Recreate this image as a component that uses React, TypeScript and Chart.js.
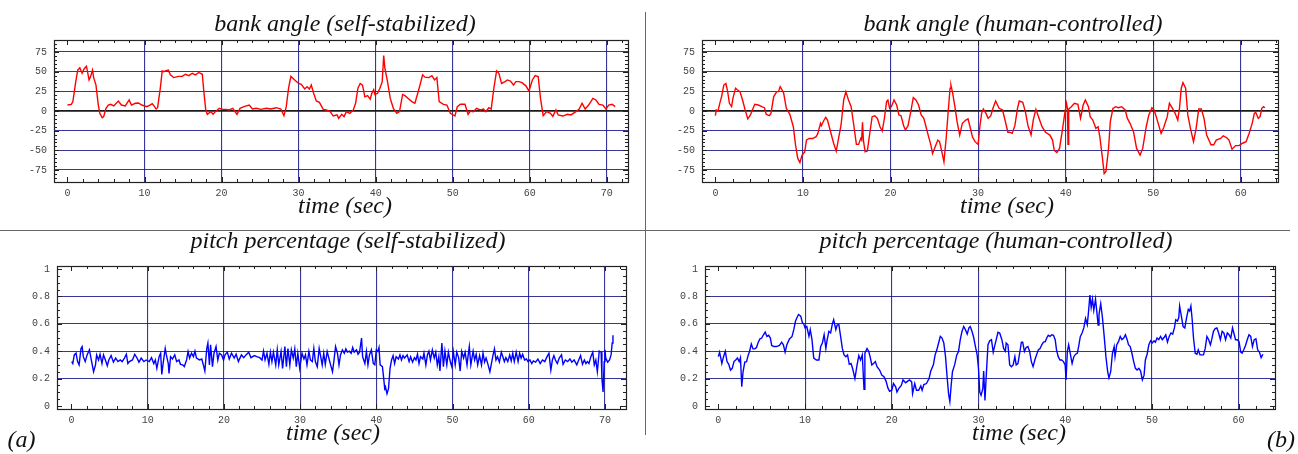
import React, { useEffect, useRef } from "react";
import { Chart, registerables } from "chart.js";

Chart.register(...registerables);

// ---------------- DATA ----------------
const X_SELF_TICKS = [0, 10, 20, 30, 40, 50, 60, 70];
const X_HUMAN_TICKS = [0, 10, 20, 30, 40, 50, 60];
const Y_BANK_TICKS = [-75, -50, -25, 0, 25, 50, 75];
const Y_PITCH_TICKS = [0, 0.2, 0.4, 0.6, 0.8, 1];

const TITLES = [
  "bank angle (self-stabilized)",
  "bank angle (human-controlled)",
  "pitch percentage (self-stabilized)",
  "pitch percentage (human-controlled)",
];
const X_LABEL = "time (sec)";
const PANEL_TAGS = ["(a)", "(b)"];

const bankSelfT = [0,0.5,0.7,1.07,1.33,1.6,1.9,2.15,2.46,2.6,2.8,3.0,3.25,3.4,3.7,4.0,4.2,4.5,4.7,5.0,5.3,5.6,6.0,6.6,7.0,7.5,8.0,8.3,8.8,9.2,9.65,10.3,10.7,11.0,11.3,11.5,11.7,12.05,12.3,12.5,12.8,13.1,13.35,13.8,14.4,14.9,15.3,15.75,16.2,16.6,17.05,17.5,17.7,17.95,18.15,18.6,18.9,19.2,19.7,20.1,20.55,21.0,21.45,22.0,22.4,22.9,23.6,24.0,24.5,25.1,25.8,26.4,27.1,27.7,28.1,28.4,28.7,29.0,29.5,30.0,30.35,30.8,31.1,31.4,31.65,31.95,32.3,32.7,33.2,33.6,34.1,34.5,35.0,35.2,35.6,35.9,36.2,36.65,37.1,37.4,37.7,38.0,38.3,38.6,38.95,39.3,39.5,39.75,39.9,40.25,40.55,40.85,41.05,41.2,41.55,41.9,42.3,42.75,43.1,43.5,43.8,44.3,44.7,45.1,45.65,46.1,46.4,46.9,47.3,47.65,47.95,48.25,48.8,49.25,49.7,50.3,50.6,51.0,51.6,52.0,52.3,52.7,53.1,53.6,54.0,54.3,54.7,55.0,55.35,55.7,56.0,56.35,56.8,57.1,57.5,57.9,58.2,58.6,59.0,59.5,59.9,60.35,60.7,61.1,61.4,61.75,62.2,62.7,63.0,63.4,63.7,64.3,64.9,65.35,66.0,66.4,66.8,67.2,67.65,68.2,68.6,69.0,69.5,69.9,70.25,70.7,71.1];
const bankSelfV = [7.6,8.5,12,37,52,55,48,53.5,57,50,39.5,44,52,42.5,33,7.6,-3,-8.5,-7,3.4,7.6,8.5,6.4,12.7,7.6,6.4,14,7.6,9.8,10.2,7.6,5.5,7.6,9.3,5.5,2.5,4.2,29,51,50,51.4,52,46,42.5,44,44,46.7,45,48,46,49,46.7,24.6,1.3,-4.2,-0.8,-4.2,-0.8,3.4,2.1,2.1,1.3,3.4,-4.2,3.4,5.5,7.6,2.5,3.4,2.1,3.4,2.5,4.2,2.5,-6,5.5,29,44,39.5,35,34,28,31,28,33,22.5,12.7,11,2.1,1.3,-0.8,-6.4,-5,-9.4,-4.2,-7.2,-0.8,-3,1.3,9.8,29,35,33,18,19.5,15,22.5,27,21,22.5,29,37,70.5,54.4,37,16,3.4,-3,-0.8,21,19.5,15.3,12,9.8,29,46,43,42.5,45,39.5,42.5,12,8.5,7.6,-3,-6.4,5.5,8.5,8.5,-4.2,0,-0.8,3.4,1.3,2.5,-0.8,4.2,2.5,29,51,48,35,37.4,39.5,38,33,37.4,37.4,36,32,25.5,39.5,45,43.8,16,-6,-0.8,-3,-6.8,1.3,-5,-6.4,-4.2,-5,-0.8,2.1,9.8,2.5,7.6,16,14,8.5,7.6,2.5,7.6,8.5,5.5];

const bankHumanT = [0,0.1,0.3,0.5,0.7,0.96,1.2,1.4,1.6,1.85,2.0,2.3,2.5,2.8,3.1,3.4,3.7,4.0,4.3,4.5,4.9,5.3,5.6,5.8,6.15,6.35,6.65,7.0,7.2,7.4,7.6,7.8,8.1,8.5,8.9,9.15,9.4,9.65,9.9,10.2,10.4,10.7,11.1,11.5,11.7,12.0,12.1,12.35,12.6,12.8,13.1,13.5,13.8,14.0,14.35,14.65,14.9,15.2,15.5,15.8,16.1,16.35,16.6,16.7,16.8,16.9,17.1,17.35,17.6,17.9,18.2,18.5,18.8,19.05,19.3,19.55,19.7,19.9,20.1,20.4,20.7,20.96,21.2,21.5,21.7,22.0,22.35,22.6,22.9,23.2,23.5,23.8,24.0,24.3,24.6,24.8,25.1,25.4,25.6,25.9,26.1,26.35,26.6,26.8,26.9,27.1,27.35,27.6,27.9,28.2,28.6,28.85,29.1,29.35,29.65,30.0,30.2,30.4,30.6,30.9,31.15,31.45,31.7,32.0,32.4,32.8,33.1,33.4,33.6,33.9,34.2,34.5,34.7,35.1,35.4,35.7,36.05,36.3,36.6,36.9,37.3,37.7,38.2,38.5,38.7,39.0,39.3,39.6,39.9,40.1,40.2,40.27,40.35,40.65,41.0,41.4,41.7,42.0,42.25,42.6,42.8,43.1,43.45,43.7,43.9,44.2,44.4,44.6,44.9,45.1,45.4,45.7,46.0,46.4,46.8,47.05,47.35,47.75,48.1,48.5,48.8,49.2,49.5,49.85,50.1,50.4,50.9,51.2,51.6,51.85,52.15,52.5,52.8,53.0,53.2,53.4,53.7,53.95,54.25,54.6,54.9,55.2,55.5,55.8,56.1,56.6,56.9,57.2,57.7,58.0,58.4,58.65,59.0,59.4,59.8,60.2,60.6,60.95,61.3,61.55,61.7,62.0,62.2,62.4,62.6,62.75];
const bankHumanV = [-6,1.3,0,9.8,18,33,35,24.6,9.8,5.5,16,29,27,24.6,14,1.3,-10,-5,3.4,8.5,7.6,5.5,4.2,-4.2,-6,-3,18,24.6,24.6,31,27,22.5,3.4,-4.2,-20,-43,-60,-65.5,-56,-52,-37,-35,-35,-32.7,-28.5,-15.7,-18.7,-12.7,-8,-11.5,-24.2,-41,-51,-39,-17.8,14,24.6,14,5.5,-17.8,-42.5,-42.5,-35,-37,-14.5,-37,-52,-51,-30.6,-7.2,-6,-9.4,-20,-25.5,-9.4,12,14,3.4,5.5,14,7.6,-5,-6,-18.7,-24.2,-18.7,1.3,17,14,7.6,-5,-9.4,-17.8,-30.6,-43,-54,-45.5,-37,-39,-54,-64.6,-35,1.3,29,33,22.5,5.5,-13.6,-30.6,-15.7,-11.5,-10,-21,-32.7,-39,-42.5,-20,-3,2.5,-3,-9.4,-6,3.4,12.7,3.4,1.3,-12.7,-27,-27,-28.5,-18.7,3.4,12.7,11,-0.8,-18.7,-30.6,-11.5,2.1,-7.2,-20,-27,-30.6,-37,-50,-52.7,-47.6,-26.3,-3,9.8,3.4,-42.5,2.5,5.5,9.8,8.5,-9.4,7.6,14,5.5,-7.2,-11.5,-22,-20,-32.7,-60,-79.5,-77,-47.6,-13.6,3.4,5.5,4.2,5.5,1.3,-9.4,-15.7,-26.3,-47.6,-56,-47.6,-20,-5,4.2,1.3,-9.4,-28.5,-21,-7.2,9.8,4.2,-3,-11.5,3.4,29,36,29,-5,-22,-39,-22,2.5,2.5,-9.4,-30.6,-43,-43,-37,-35,-31.5,-34,-37,-48.5,-44,-44,-41,-39,-28.5,-15.7,-3,-1.7,-9.4,-7.2,3.4,5.5,4.2];

const pitchSelfT = [0.03,0.17,0.37,0.6,0.8,1.0,1.25,1.4,1.55,1.8,2.05,2.35,2.6,2.9,3.15,3.3,3.55,3.75,4.0,4.2,4.45,4.7,4.9,5.2,5.5,5.8,6.1,6.4,6.65,6.95,7.2,7.4,7.6,8.0,8.3,8.6,8.85,9.15,9.5,9.8,10.2,10.5,10.8,11.0,11.2,11.5,11.7,11.85,12.0,12.3,12.45,12.7,12.8,13.0,13.25,13.55,13.8,14.1,14.3,14.6,14.8,15.1,15.3,15.5,15.75,16.0,16.2,16.4,16.8,17.1,17.3,17.5,17.75,17.9,18.1,18.25,18.5,18.7,18.97,19.2,19.4,19.7,19.95,20.15,20.45,20.7,21.0,21.35,21.6,21.9,22.3,22.6,22.9,23.25,23.55,24.0,24.3,24.7,25.0,25.2,25.4,25.65,25.9,26.1,26.3,26.5,26.8,27.0,27.2,27.5,27.7,28.0,28.2,28.4,28.65,28.85,29.1,29.3,29.5,29.7,29.95,30.25,30.5,30.7,30.9,31.15,31.35,31.6,31.8,32.0,32.25,32.5,32.7,32.9,33.1,33.3,33.55,33.8,34.0,34.25,34.45,34.65,34.9,35.1,35.3,35.55,35.8,36.0,36.2,36.45,36.7,36.9,37.1,37.4,37.6,37.8,38.06,38.2,38.5,38.7,38.9,39.1,39.35,39.6,39.8,40.0,40.2,40.35,40.5,40.8,40.97,41.1,41.2,41.4,41.6,41.8,42.0,42.2,42.4,42.6,42.9,43.1,43.3,43.5,43.7,44.05,44.3,44.5,44.75,45.0,45.2,45.4,45.6,45.8,46.1,46.25,46.5,46.7,46.9,47.1,47.35,47.6,47.8,48.0,48.2,48.35,48.6,48.8,49.0,49.25,49.45,49.7,49.9,50.1,50.35,50.55,50.8,51.0,51.2,51.45,51.65,51.9,52.1,52.2,52.4,52.7,52.9,53.1,53.3,53.55,53.8,54.0,54.2,54.4,54.65,54.9,55.1,55.3,55.5,55.7,55.9,56.15,56.4,56.6,56.8,57.0,57.25,57.5,57.7,57.9,58.1,58.35,58.6,58.8,59.0,59.2,59.45,59.7,59.9,60.15,60.4,60.6,60.9,61.2,61.5,61.8,62.1,62.4,62.65,62.9,63.1,63.3,63.5,63.75,64.0,64.3,64.5,64.8,65.1,65.4,65.65,65.95,66.3,66.5,66.8,67.05,67.3,67.5,67.7,67.9,68.15,68.4,68.6,68.8,69.0,69.25,69.5,69.6,69.75,69.9,70.0,70.1,70.35,70.6,70.8,70.95,71.05];
const pitchSelfV = [0.324,0.31,0.373,0.385,0.324,0.30,0.42,0.434,0.36,0.324,0.373,0.41,0.336,0.25,0.30,0.373,0.336,0.378,0.31,0.373,0.336,0.294,0.336,0.368,0.32,0.35,0.324,0.336,0.324,0.35,0.378,0.31,0.324,0.336,0.378,0.35,0.32,0.35,0.324,0.336,0.324,0.353,0.31,0.336,0.275,0.36,0.385,0.23,0.30,0.42,0.373,0.31,0.238,0.36,0.343,0.373,0.324,0.336,0.304,0.30,0.287,0.336,0.398,0.35,0.385,0.36,0.40,0.35,0.336,0.343,0.30,0.255,0.42,0.46,0.30,0.447,0.287,0.385,0.434,0.336,0.385,0.373,0.336,0.373,0.393,0.343,0.385,0.35,0.378,0.324,0.373,0.353,0.373,0.393,0.353,0.368,0.36,0.353,0.336,0.40,0.336,0.385,0.304,0.393,0.324,0.393,0.30,0.41,0.30,0.398,0.275,0.434,0.287,0.42,0.30,0.41,0.35,0.417,0.287,0.385,0.275,0.385,0.343,0.373,0.30,0.398,0.336,0.324,0.42,0.324,0.287,0.42,0.36,0.30,0.385,0.304,0.398,0.343,0.30,0.25,0.336,0.434,0.385,0.30,0.373,0.41,0.385,0.417,0.393,0.40,0.385,0.427,0.393,0.41,0.378,0.393,0.496,0.36,0.31,0.398,0.30,0.373,0.41,0.31,0.30,0.41,0.398,0.427,0.30,0.287,0.20,0.127,0.14,0.09,0.127,0.275,0.336,0.368,0.31,0.36,0.343,0.373,0.336,0.368,0.35,0.373,0.324,0.36,0.32,0.353,0.336,0.378,0.31,0.36,0.343,0.385,0.30,0.373,0.40,0.336,0.41,0.35,0.393,0.30,0.36,0.255,0.46,0.287,0.40,0.30,0.393,0.324,0.287,0.398,0.30,0.393,0.353,0.255,0.398,0.35,0.393,0.30,0.393,0.434,0.30,0.40,0.336,0.378,0.30,0.368,0.30,0.385,0.32,0.35,0.304,0.25,0.31,0.368,0.417,0.336,0.36,0.32,0.393,0.36,0.324,0.353,0.324,0.373,0.329,0.385,0.324,0.393,0.324,0.385,0.35,0.378,0.336,0.343,0.324,0.336,0.31,0.329,0.32,0.343,0.31,0.336,0.324,0.36,0.385,0.262,0.336,0.368,0.336,0.31,0.35,0.373,0.304,0.336,0.324,0.343,0.32,0.336,0.30,0.329,0.368,0.304,0.336,0.31,0.324,0.31,0.36,0.393,0.30,0.336,0.25,0.40,0.393,0.20,0.102,0.324,0.41,0.35,0.32,0.336,0.373,0.46,0.516];

const pitchHumanT = [0,0.14,0.25,0.4,0.6,0.8,1.0,1.2,1.4,1.6,1.8,2.0,2.2,2.4,2.55,2.7,2.85,3.05,3.25,3.45,3.6,3.8,4.0,4.2,4.4,4.6,4.8,5.0,5.2,5.4,5.6,5.8,6.0,6.15,6.4,6.7,7.05,7.3,7.5,7.7,7.9,8.2,8.5,8.7,8.9,9.1,9.25,9.5,9.7,9.84,10.0,10.2,10.45,10.6,10.8,11.0,11.3,11.6,11.8,12.0,12.2,12.4,12.55,12.75,12.95,13.15,13.3,13.55,13.7,13.9,14.1,14.3,14.5,14.7,14.9,15.1,15.3,15.5,15.75,16.0,16.2,16.4,16.6,16.8,16.9,17.15,17.35,17.5,17.7,17.9,18.1,18.3,18.6,18.85,19.1,19.35,19.55,19.75,20.0,20.2,20.45,20.6,20.8,21.1,21.3,21.6,21.8,22.05,22.3,22.4,22.65,22.85,23.1,23.35,23.5,23.7,24.0,24.3,24.5,24.8,25.0,25.2,25.4,25.6,25.8,26.0,26.2,26.35,26.55,26.7,26.85,27.0,27.25,27.5,27.7,27.9,28.1,28.3,28.5,28.7,28.9,29.05,29.25,29.45,29.65,29.85,30.0,30.15,30.3,30.5,30.6,30.75,30.9,31.1,31.3,31.5,31.7,31.85,32.05,32.25,32.45,32.7,32.9,33.1,33.2,33.4,33.6,33.8,34.0,34.2,34.35,34.55,34.75,34.95,35.1,35.3,35.5,35.7,35.9,36.1,36.3,36.5,36.7,36.9,37.1,37.3,37.5,37.7,37.9,38.05,38.25,38.45,38.65,38.85,39.0,39.2,39.4,39.6,39.8,40.0,40.1,40.25,40.4,40.6,40.8,41.0,41.2,41.4,41.55,41.75,41.95,42.15,42.35,42.55,42.7,42.85,43.0,43.15,43.3,43.5,43.6,43.8,43.9,44.1,44.3,44.5,44.7,44.9,45.05,45.25,45.45,45.65,45.75,45.95,46.15,46.35,46.55,46.75,46.95,47.15,47.3,47.5,47.7,47.9,48.1,48.3,48.5,48.7,48.9,49.1,49.25,49.45,49.65,49.85,50.05,50.25,50.4,50.6,50.8,51.0,51.2,51.4,51.6,51.8,52.0,52.2,52.4,52.6,52.75,52.95,53.1,53.2,53.4,53.6,53.8,54.0,54.2,54.35,54.5,54.65,54.8,55.0,55.2,55.35,55.55,55.75,55.95,56.15,56.35,56.55,56.75,56.9,57.1,57.3,57.5,57.7,57.9,58.1,58.3,58.5,58.7,58.9,59.1,59.3,59.45,59.65,59.85,60.05,60.25,60.4,60.6,60.8,61.0,61.2,61.4,61.6,61.8,62.0,62.2,62.4,62.6,62.8];
const pitchHumanV = [0.36,0.393,0.36,0.31,0.36,0.40,0.324,0.304,0.262,0.275,0.324,0.336,0.35,0.324,0.353,0.14,0.25,0.32,0.324,0.373,0.398,0.452,0.417,0.417,0.427,0.466,0.49,0.496,0.52,0.54,0.508,0.516,0.496,0.442,0.434,0.434,0.442,0.466,0.447,0.393,0.447,0.49,0.508,0.557,0.62,0.65,0.668,0.656,0.607,0.60,0.57,0.58,0.508,0.557,0.484,0.35,0.336,0.336,0.434,0.46,0.52,0.42,0.484,0.545,0.533,0.60,0.63,0.557,0.59,0.594,0.508,0.42,0.373,0.36,0.373,0.304,0.31,0.27,0.20,0.30,0.368,0.336,0.373,0.122,0.385,0.42,0.398,0.36,0.30,0.31,0.324,0.287,0.262,0.225,0.213,0.18,0.132,0.107,0.115,0.164,0.14,0.102,0.127,0.15,0.19,0.17,0.18,0.19,0.176,0.09,0.164,0.115,0.115,0.147,0.115,0.156,0.164,0.20,0.255,0.30,0.373,0.41,0.46,0.508,0.496,0.46,0.36,0.237,0.09,0.033,0.15,0.25,0.30,0.373,0.398,0.484,0.545,0.58,0.557,0.525,0.57,0.58,0.545,0.50,0.434,0.373,0.275,0.102,0.078,0.127,0.255,0.04,0.225,0.447,0.476,0.484,0.393,0.434,0.484,0.538,0.533,0.484,0.42,0.40,0.46,0.447,0.30,0.287,0.30,0.36,0.30,0.31,0.385,0.466,0.466,0.398,0.427,0.434,0.398,0.324,0.287,0.336,0.373,0.41,0.42,0.447,0.466,0.47,0.50,0.516,0.508,0.52,0.516,0.484,0.41,0.36,0.336,0.336,0.324,0.30,0.19,0.398,0.447,0.378,0.31,0.36,0.378,0.385,0.434,0.508,0.533,0.57,0.64,0.594,0.693,0.81,0.72,0.78,0.698,0.78,0.72,0.59,0.668,0.747,0.644,0.508,0.36,0.25,0.205,0.25,0.385,0.434,0.36,0.447,0.47,0.508,0.484,0.496,0.52,0.484,0.447,0.434,0.385,0.324,0.275,0.262,0.275,0.255,0.19,0.225,0.336,0.378,0.447,0.476,0.46,0.476,0.466,0.496,0.484,0.508,0.484,0.50,0.52,0.466,0.508,0.533,0.525,0.57,0.63,0.62,0.644,0.73,0.656,0.58,0.57,0.644,0.705,0.693,0.73,0.63,0.496,0.385,0.378,0.41,0.373,0.373,0.373,0.42,0.508,0.484,0.447,0.484,0.545,0.565,0.57,0.533,0.484,0.545,0.533,0.484,0.533,0.52,0.496,0.57,0.533,0.484,0.484,0.47,0.393,0.385,0.41,0.442,0.484,0.52,0.508,0.434,0.484,0.49,0.41,0.393,0.353,0.378];

// ---------------- STYLE / LAYOUT ----------------
const GRID_BLUE = "rgba(20,20,135,0.85)";
const ZERO_BLACK = "#1a1a1a";
const SERIF = "'Liberation Serif','Times New Roman',serif";
const MONO = "'Liberation Mono','DejaVu Sans Mono',monospace";

type PanelSpec = {
  t: number[]; v: number[]; color: string;
  xMin: number; xMax: number; yMin: number; yMax: number;
  xTicks: number[]; yTicks: number[];
  xMinor: number; yMinor: number; xMajor: number; yMajor: number;
  gridY: number[]; gridX: number[];
  left: number; top: number; w: number; h: number;
  padTop: number; padRight: number; yAxisW: number; xAxisH: number;
};

const near = (a: number, b: number) => Math.abs(a - b) < 1e-6;

const frameTicks = {
  id: "frameTicks",
  afterDatasetsDraw(chart: any, _args: any, opts: any) {
    const { ctx, chartArea: a } = chart;
    const xs = chart.scales.x;
    const ys = chart.scales.y;
    ctx.save();
    ctx.strokeStyle = "#222";
    ctx.lineWidth = 1;
    ctx.beginPath();
    const xStart = Math.ceil(xs.min / opts.xMinor);
    const xEnd = Math.floor(xs.max / opts.xMinor);
    for (let k = xStart; k <= xEnd; k++) {
      const v = k * opts.xMinor;
      const major = near(v / opts.xMajor, Math.round(v / opts.xMajor));
      const len = major ? 5 : 3;
      const px = Math.round(xs.getPixelForValue(v)) + 0.5;
      ctx.moveTo(px, a.bottom); ctx.lineTo(px, a.bottom - len);
      ctx.moveTo(px, a.top); ctx.lineTo(px, a.top + len);
    }
    const yStart = Math.ceil(ys.min / opts.yMinor - 1e-6);
    const yEnd = Math.floor(ys.max / opts.yMinor + 1e-6);
    for (let k = yStart; k <= yEnd; k++) {
      const v = k * opts.yMinor;
      const major = near(v / opts.yMajor, Math.round(v / opts.yMajor));
      const len = major ? 5 : 3;
      const py = Math.round(ys.getPixelForValue(v)) + 0.5;
      ctx.moveTo(a.left, py); ctx.lineTo(a.left + len, py);
      ctx.moveTo(a.right, py); ctx.lineTo(a.right - len, py);
    }
    ctx.stroke();
    ctx.strokeStyle = "#222";
    ctx.lineWidth = 1.2;
    ctx.strokeRect(Math.round(a.left) + 0.5, Math.round(a.top) + 0.5, Math.round(a.right - a.left), Math.round(a.bottom - a.top));
    ctx.restore();
  },
};

const PANELS: PanelSpec[] = [
  {
    t: bankSelfT, v: bankSelfV, color: "#ff0000",
    xMin: -1.75, xMax: 72.76, yMin: -90.3, yMax: 90.3,
    xTicks: X_SELF_TICKS, yTicks: Y_BANK_TICKS, xMinor: 2, yMinor: 5, xMajor: 10, yMajor: 25,
    gridY: Y_BANK_TICKS, gridX: X_SELF_TICKS.slice(1),
    left: 0, top: 0, w: 645, h: 200, padTop: 40, padRight: 17, yAxisW: 54, xAxisH: 18,
  },
  {
    t: bankHumanT, v: bankHumanV, color: "#ff0000",
    xMin: -1.53, xMax: 64.25, yMin: -90.3, yMax: 90.3,
    xTicks: X_HUMAN_TICKS, yTicks: Y_BANK_TICKS, xMinor: 2, yMinor: 5, xMajor: 10, yMajor: 25,
    gridY: Y_BANK_TICKS, gridX: X_HUMAN_TICKS.slice(1),
    left: 650, top: 0, w: 648, h: 200, padTop: 40, padRight: 20, yAxisW: 52, xAxisH: 18,
  },
  {
    t: pitchSelfT, v: pitchSelfV, color: "#0000ff",
    xMin: -1.9, xMax: 72.76, yMin: -0.022, yMax: 1.022,
    xTicks: X_SELF_TICKS, yTicks: Y_PITCH_TICKS, xMinor: 2, yMinor: 0.05, xMajor: 10, yMajor: 0.2,
    gridY: Y_PITCH_TICKS.slice(1, -1), gridX: X_SELF_TICKS.slice(1),
    left: 0, top: 226, w: 645, h: 201, padTop: 40, padRight: 19, yAxisW: 57, xAxisH: 18,
  },
  {
    t: pitchHumanT, v: pitchHumanV, color: "#0000ff",
    xMin: -1.54, xMax: 64.2, yMin: -0.022, yMax: 1.022,
    xTicks: X_HUMAN_TICKS, yTicks: Y_PITCH_TICKS, xMinor: 2, yMinor: 0.05, xMajor: 10, yMajor: 0.2,
    gridY: Y_PITCH_TICKS.slice(1, -1), gridX: X_HUMAN_TICKS.slice(1),
    left: 650, top: 226, w: 648, h: 201, padTop: 40, padRight: 23, yAxisW: 55, xAxisH: 18,
  },
];

function Panel({ spec }: { spec: PanelSpec }) {
  const ref = useRef<HTMLCanvasElement | null>(null);
  useEffect(() => {
    if (!ref.current) return;
    const s = spec;
    const inList = (list: number[], v: number) => list.some((g) => near(g, v));
    const chart = new Chart(ref.current, {
      type: "line",
      data: {
        datasets: [
          {
            data: s.t.map((x, i) => ({ x, y: s.v[i] })),
            borderColor: s.color,
            borderWidth: 1.4,
            pointRadius: 0,
            tension: 0,
            fill: false,
          },
        ],
      },
      options: {
        responsive: false,
        animation: false,
        devicePixelRatio: 1,
        layout: { padding: { left: 0, top: s.padTop, right: s.padRight, bottom: 0 } },
        plugins: {
          legend: { display: false },
          tooltip: { enabled: false },
          title: { display: false },
          frameTicks: { xMinor: s.xMinor, yMinor: s.yMinor, xMajor: s.xMajor, yMajor: s.yMajor },
        } as any,
        scales: {
          x: {
            type: "linear",
            position: "bottom",
            min: s.xMin,
            max: s.xMax,
            afterBuildTicks: (sc: any) => { sc.ticks = s.xTicks.map((value) => ({ value })); },
            afterFit: (sc: any) => { sc.height = s.xAxisH; },
            ticks: {
              autoSkip: false,
              maxRotation: 0,
              padding: 5,
              color: "#444",
              font: { family: MONO, size: 10 },
              callback: (val: any) => String(val),
            },
            grid: {
              drawTicks: false,
              color: (c: any) => (c.tick && inList(s.gridX, c.tick.value) ? GRID_BLUE : "rgba(0,0,0,0)"),
              lineWidth: 1.1,
            },
            border: { display: false },
          },
          y: {
            type: "linear",
            position: "left",
            min: s.yMin,
            max: s.yMax,
            afterBuildTicks: (sc: any) => { sc.ticks = s.yTicks.map((value) => ({ value })); },
            afterFit: (sc: any) => { sc.width = s.yAxisW; },
            ticks: {
              autoSkip: false,
              padding: 7,
              color: "#444",
              font: { family: MONO, size: 10 },
              callback: (val: any) => String(val),
            },
            grid: {
              drawTicks: false,
              color: (c: any) => {
                if (!c.tick || !inList(s.gridY, c.tick.value)) return "rgba(0,0,0,0)";
                return near(c.tick.value, 0) ? ZERO_BLACK : GRID_BLUE;
              },
              lineWidth: (c: any) => (c.tick && near(c.tick.value, 0) ? 1.8 : 1.1),
            },
            border: { display: false },
          },
        },
      },
      plugins: [frameTicks as any],
    });
    return () => chart.destroy();
  }, [spec]);
  return (
    <canvas
      ref={ref}
      width={spec.w}
      height={spec.h}
      style={{ position: "absolute", left: spec.left, top: spec.top, width: spec.w, height: spec.h }}
    />
  );
}

function Label({ text, cx, baseline, size = 24 }: { text: string; cx: number; baseline: number; size?: number }) {
  return (
    <div
      style={{
        position: "absolute",
        left: cx - 300,
        width: 600,
        top: baseline - size * 0.8375,
        textAlign: "center",
        fontFamily: SERIF,
        fontStyle: "italic",
        fontSize: size,
        lineHeight: `${size}px`,
        color: "#111",
        whiteSpace: "nowrap",
      }}
    >
      {text}
    </div>
  );
}

export default function App() {
  return (
    <div style={{ position: "absolute", left: 0, top: 0, width: 1298, height: 454, background: "#fff", overflow: "hidden" }}>
      {PANELS.map((p, i) => (
        <Panel key={i} spec={p} />
      ))}
      <Label text={TITLES[0]} cx={345} baseline={31.5} />
      <Label text={TITLES[1]} cx={1013} baseline={31.5} />
      <Label text={TITLES[2]} cx={348} baseline={248.5} />
      <Label text={TITLES[3]} cx={996} baseline={248.5} />
      <Label text={X_LABEL} cx={345} baseline={213} />
      <Label text={X_LABEL} cx={1007} baseline={213} />
      <Label text={X_LABEL} cx={333} baseline={440} />
      <Label text={X_LABEL} cx={1019} baseline={440} />
      <Label text={PANEL_TAGS[0]} cx={21.5} baseline={447} />
      <Label text={PANEL_TAGS[1]} cx={1281} baseline={447} />
      <div style={{ position: "absolute", left: 645, top: 12, width: 1, height: 423, background: "#666" }} />
      <div style={{ position: "absolute", left: 0, top: 230, width: 1290, height: 1, background: "#666" }} />
    </div>
  );
}
